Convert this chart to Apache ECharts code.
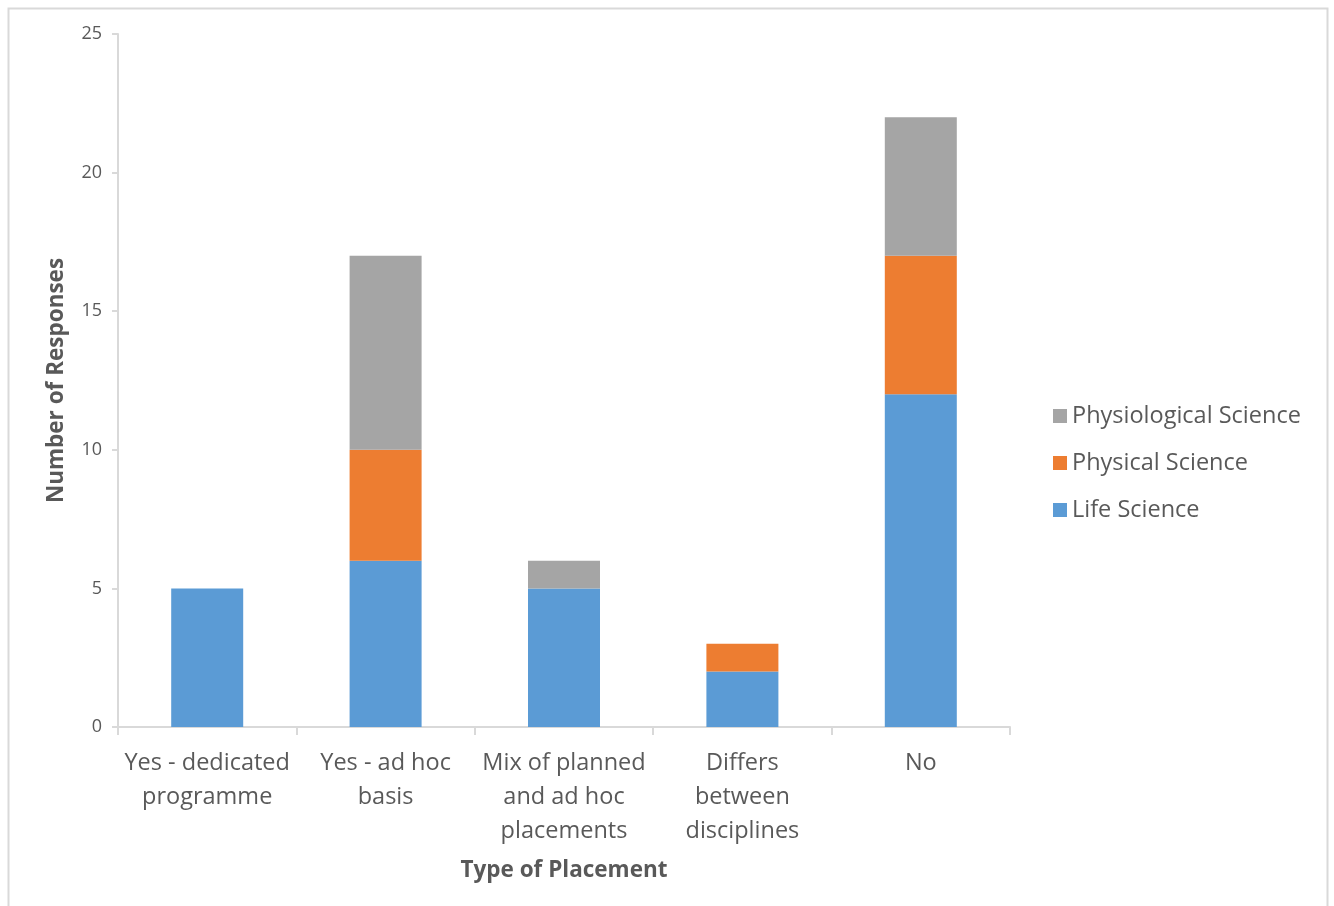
<!DOCTYPE html>
<html>
<head>
<meta charset="utf-8">
<script src="https://cdn.jsdelivr.net/npm/echarts@6/dist/echarts.min.js"></script>
<style>
  html, body { margin: 0; padding: 0; background: #fff; }
  #main { width: 1334px; height: 906px; }
</style>
</head>
<body>
<div id="main"></div>
<script>
var categories = [
  "Yes - dedicated\nprogramme",
  "Yes - ad hoc\nbasis",
  "Mix of planned\nand ad hoc\nplacements",
  "Differs\nbetween\ndisciplines",
  "No"
];
var lifeScience = [5, 6, 5, 2, 12];
var physicalScience = [0, 4, 0, 1, 5];
var physiologicalScience = [0, 7, 1, 0, 5];

var font = "'Open Sans', Lato, sans-serif";
var textColor = "#595959";
var lineColor = "#d9d9d9";

var myChart = echarts.init(document.getElementById("main"));

var option = {
  textStyle: { fontFamily: font },
  graphic: [
    {
      type: "rect",
      shape: { x: 8.5, y: 8.5, width: 1319, height: 910 },
      style: { fill: "none", stroke: lineColor, lineWidth: 2 },
      silent: true
    }
  ],
  grid: { left: 118, right: 324, top: 34, bottom: 179 },
  legend: {
    orient: "vertical",
    left: 1048,
    top: 399,
    itemWidth: 14,
    itemHeight: 14,
    itemGap: 23,
    icon: "rect",
    textStyle: { color: textColor, fontSize: 23.5, fontFamily: font },
    data: ["Physiological Science", "Physical Science", "Life Science"]
  },
  xAxis: {
    type: "category",
    data: categories,
    name: "Type of Placement",
    nameLocation: "middle",
    nameGap: 132,
    nameTextStyle: { color: textColor, fontSize: 22.5, fontWeight: "bold", fontFamily: font },
    axisLine: { lineStyle: { color: lineColor, width: 2 } },
    axisTick: { show: true, length: 8, lineStyle: { color: lineColor, width: 2 } },
    axisLabel: {
      color: textColor,
      fontSize: 23.5,
      lineHeight: 34,
      margin: 19,
      interval: 0,
      fontFamily: font
    }
  },
  yAxis: {
    type: "value",
    min: 0,
    max: 25,
    interval: 5,
    name: "Number of Responses",
    nameLocation: "middle",
    nameGap: 50,
    nameTextStyle: { color: textColor, fontSize: 22.5, fontWeight: "bold", fontFamily: font },
    axisLine: { show: true, lineStyle: { color: lineColor, width: 2 } },
    axisTick: { show: true, length: 6, lineStyle: { color: lineColor, width: 2 } },
    splitLine: { show: false },
    axisLabel: { color: textColor, fontSize: 18, margin: 16, fontFamily: font }
  },
  series: [
    {
      name: "Life Science",
      type: "bar",
      stack: "total",
      barWidth: 72,
      itemStyle: { color: "#5B9BD5" },
      data: lifeScience
    },
    {
      name: "Physical Science",
      type: "bar",
      stack: "total",
      barWidth: 72,
      itemStyle: { color: "#ED7D31" },
      data: physicalScience
    },
    {
      name: "Physiological Science",
      type: "bar",
      stack: "total",
      barWidth: 72,
      itemStyle: { color: "#A5A5A5" },
      data: physiologicalScience
    }
  ]
};

myChart.setOption(option);
</script>
</body>
</html>
